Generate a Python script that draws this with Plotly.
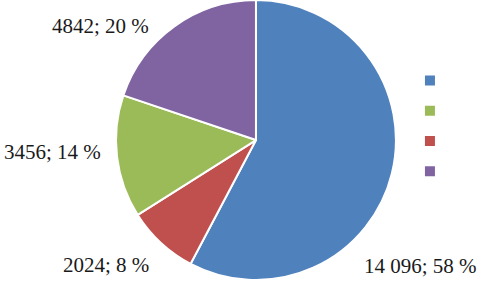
import plotly.graph_objects as go

values = [14096, 2024, 3456, 4842]
slice_colors = ["#4F81BD", "#C0504D", "#9BBB59", "#8064A2"]
legend_order = [0, 2, 1, 3]

total = sum(values)

def fmt(v):
    if v >= 10000:
        return f"{v:,}".replace(",", " ")
    return str(v)

labels_text = [f"{fmt(v)}; {round(v / total * 100)} %" for v in values]

fig = go.Figure()
fig.add_trace(go.Pie(
    values=values,
    labels=["a", "b", "c", "d"],
    sort=False,
    direction="clockwise",
    rotation=0,
    marker=dict(colors=slice_colors, line=dict(color="white", width=2)),
    textinfo="none",
    hoverinfo="none",
    showlegend=False,
    domain=dict(x=[0.2397, 0.818], y=[0.024, 1.0]),
))

for i in legend_order:
    fig.add_trace(go.Scatter(
        x=[None], y=[None], mode="markers",
        marker=dict(symbol="square", size=10, color=slice_colors[i]),
        name=" ", showlegend=True,
    ))

label_pos = [(420, 266), (106, 265), (52, 152), (100, 26)]
annotations = []
for txt, (px, py) in zip(labels_text, label_pos):
    annotations.append(dict(
        x=px / 484, y=1 - py / 287, xref="paper", yref="paper",
        text=txt, showarrow=False, xanchor="center", yanchor="middle",
        font=dict(family="Liberation Serif", size=21, color="#1a1a1a"),
    ))

fig.update_layout(
    width=484, height=287,
    margin=dict(l=0, r=0, t=0, b=0),
    paper_bgcolor="white", plot_bgcolor="white",
    xaxis=dict(visible=False), yaxis=dict(visible=False),
    annotations=annotations,
    legend=dict(x=0.847, y=0.79, xanchor="left", yanchor="top",
                font=dict(family="Liberation Serif", size=21, color="white"),
                bgcolor="rgba(0,0,0,0)", itemwidth=30),
)

fig.write_html("out.html", config={"displayModeBar": False},
               post_script="document.body.style.margin='0';")
